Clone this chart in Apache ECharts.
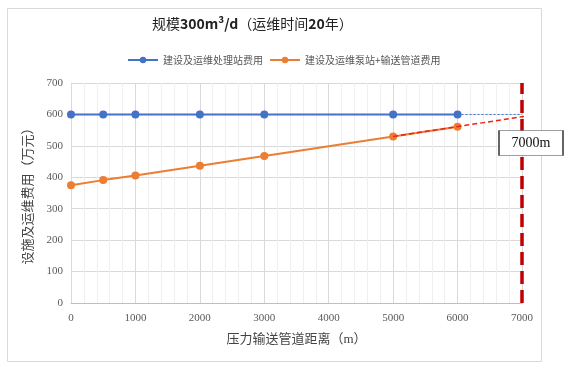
<!DOCTYPE html>
<html><head><meta charset="utf-8">
<script src="https://cdn.jsdelivr.net/npm/echarts@6/dist/echarts.min.js"></script>
<style>html,body{margin:0;padding:0;background:#fff}#c{width:571px;height:373px}</style>
</head><body><div id="c"></div>
<script>
const titleParts = ['规模', '300m³/d', '（运维时间', '20', '年）'];
const seriesNames = ['建设及运维处理站费用', '建设及运维泵站+输送管道费用'];
const distances = [0, 500, 1000, 2000, 3000, 5000, 6000];
const stationCost = [600, 600, 600, 600, 600, 600, 600];
const pipeCost = [375, 391, 406, 437, 468, 530, 561];
const stationTrendX = [6000, 7000];
const stationTrendY = [600, 600];
const pipeTrendX = [5000, 7170];
const pipeTrendY = [530, 598];
const markerX = 7000;
const markerLabel = '7000m';
const markerLabelY = 509;
const xName = '压力输送管道距离（m）';
const yName = '设施及运维费用（万元）';

const zip = (a, b) => a.map((v, i) => [v, b[i]]);
const serif = '"Liberation Serif","Noto Sans CJK SC",serif';
const sans = '"Noto Sans CJK SC","Noto Sans",sans-serif';

const chart = echarts.init(document.getElementById('c'));
chart.setOption({
  animation: false,
  graphic: [{type:'rect', shape:{x:7.5,y:8.5,width:534,height:353}, style:{fill:'none', stroke:'#d9d9d9', lineWidth:1}, silent:true}],
  title: {
    text: `{a|${titleParts[0]}}{b|${titleParts[1]}}{a|${titleParts[2]}}{b|${titleParts[3]}}{a|${titleParts[4]}}`,
    left: 147, top: 12,
    textStyle:{fontWeight:'normal', rich:{
      a:{fontFamily: sans, fontSize: 14, fontWeight:'normal', color:'#222'},
      b:{fontFamily: sans, fontSize: 14, fontWeight:'bold', color:'#222'}
    }}
  },
  legend: {
    top: 50, left: 122, itemWidth: 30, itemHeight: 8, itemGap: 6,
    textStyle:{fontFamily: sans, fontSize: 10, color:'#555'},
    data: seriesNames
  },
  grid: {left: 71, right: 49, top: 83, bottom: 70},
  xAxis: {
    type:'value', min:0, max:7000, interval:1000,
    name: xName, nameLocation:'middle', nameGap: 30,
    nameTextStyle:{fontFamily: serif, fontSize: 13, color:'#444'},
    axisLine:{show:true, lineStyle:{color:'#bfbfbf'}},
    axisTick:{show:false},
    axisLabel:{fontFamily: serif, fontSize: 11, color:'#595959', margin: 10, formatter: v => String(v)},
    splitLine:{show:true, lineStyle:{color:'#d9d9d9'}},
    minorTick:{show:false, splitNumber:5},
    minorSplitLine:{show:true, lineStyle:{color:'#efefef'}}
  },
  yAxis: {
    type:'value', min:0, max:700, interval:100,
    name: yName, nameLocation:'middle', nameGap: 36, nameRotate: 90,
    nameTextStyle:{fontFamily: serif, fontSize: 13, color:'#444'},
    axisLine:{show:false}, axisTick:{show:false},
    axisLabel:{fontFamily: serif, fontSize: 11, color:'#595959', margin: 8, formatter: v => String(v)},
    splitLine:{show:true, lineStyle:{color:'#d9d9d9'}}
  },
  series: [
    {name: seriesNames[0], type:'line', data: zip(distances, stationCost), symbol:'circle', symbolSize:8,
     itemStyle:{color:'#4472C4'}, lineStyle:{color:'#4472C4', width:2}, z:3},
    {name: seriesNames[1], type:'line', data: zip(distances, pipeCost), symbol:'circle', symbolSize:8,
     itemStyle:{color:'#ED7D31'}, lineStyle:{color:'#ED7D31', width:2}, z:3},
    {name:'trend1', type:'line', data: zip(stationTrendX, stationTrendY), symbol:'none', clip:false,
     lineStyle:{color:'#4472C4', width:1, type:[2,2]}, z:4},
    {name:'trend2', type:'line', data: zip(pipeTrendX, pipeTrendY), symbol:'none', clip:false,
     lineStyle:{color:'#E8231A', width:1.5, type:[5,3]}, z:4,
     markLine:{silent:true, symbol:'none', label:{show:false},
       lineStyle:{color:'#C00000', width:3.5, type:[13,6]},
       data:[{xAxis: markerX}]},
     markPoint:{silent:true, data:[{coord:[markerX, markerLabelY], symbol:'rect', symbolSize:[64,25], symbolOffset:[9,0],
       itemStyle:{color:'#fff', borderColor:'#404040', borderWidth:1},
       label:{show:true, formatter: markerLabel, color:'#111', fontFamily: serif, fontSize: 14}}]}
    }
  ]
});
</script></body></html>
